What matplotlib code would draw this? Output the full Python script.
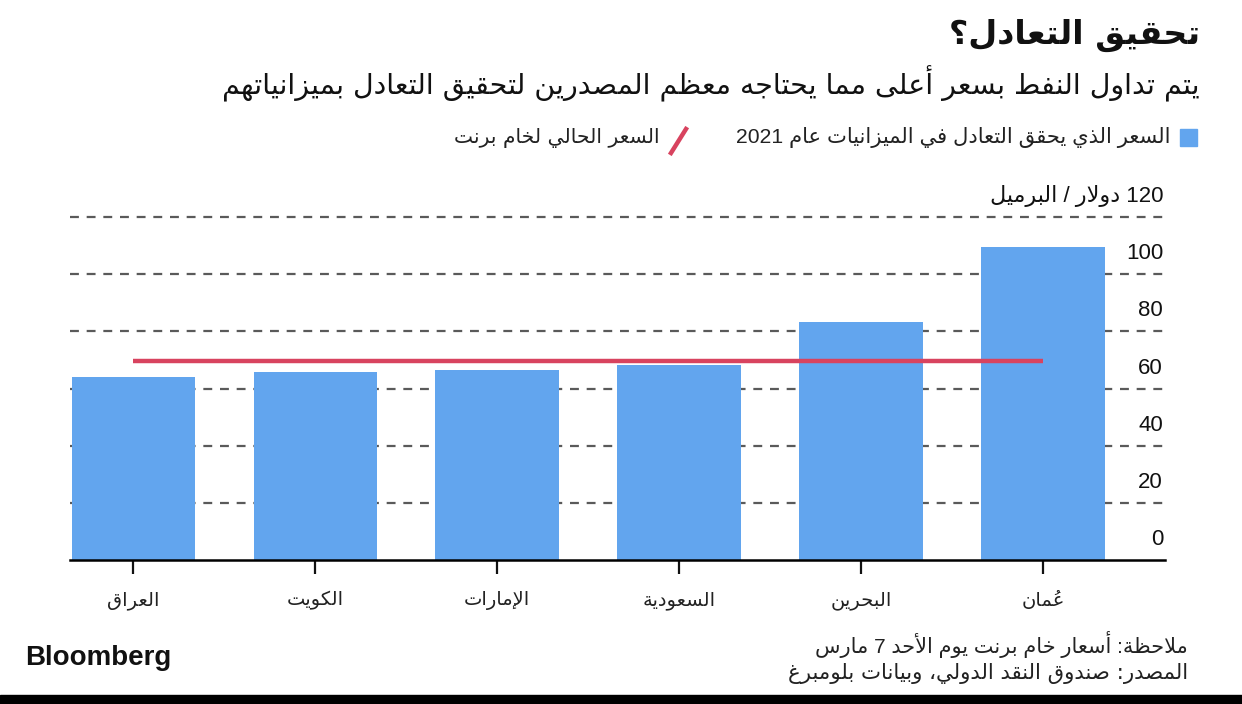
import matplotlib
matplotlib.use("Agg")
import matplotlib.pyplot as plt
import matplotlib.transforms as mtransforms
from matplotlib.patches import Rectangle
from matplotlib.lines import Line2D

# --- data -------------------------------------------------------------
countries = ["العراق", "الكويت", "الإمارات", "السعودية", "البحرين", "عُمان"]
breakeven = [64.0, 65.8, 66.5, 68.2, 83.4, 109.6]
brent = 69.6
yticks = [0, 20, 40, 60, 80, 100, 120]

title = "تحقيق التعادل؟"
subtitle = "يتم تداول النفط بسعر أعلى مما يحتاجه معظم المصدرين لتحقيق التعادل بميزانياتهم"
legend_bars = "السعر الذي يحقق التعادل في الميزانيات عام 2021"
legend_line = "السعر الحالي لخام برنت"
unit_label = "120 دولار / البرميل"
note = "ملاحظة: أسعار خام برنت يوم الأحد 7 مارس"
source = "المصدر: صندوق النقد الدولي، وبيانات بلومبرغ"

bar_color = "#62a5ee"
line_color = "#d8435f"

# --- minimal arabic shaping (matplotlib 3.10 does no text shaping) ------
# isolated, final, initial, medial
FORMS = {
    'ء': (0xFE80, None, None, None),
    'آ': (0xFE81, 0xFE82, None, None),
    'أ': (0xFE83, 0xFE84, None, None),
    'ؤ': (0xFE85, 0xFE86, None, None),
    'إ': (0xFE87, 0xFE88, None, None),
    'ئ': (0xFE89, 0xFE8A, 0xFE8B, 0xFE8C),
    'ا': (0xFE8D, 0xFE8E, None, None),
    'ب': (0xFE8F, 0xFE90, 0xFE91, 0xFE92),
    'ة': (0xFE93, 0xFE94, None, None),
    'ت': (0xFE95, 0xFE96, 0xFE97, 0xFE98),
    'ث': (0xFE99, 0xFE9A, 0xFE9B, 0xFE9C),
    'ج': (0xFE9D, 0xFE9E, 0xFE9F, 0xFEA0),
    'ح': (0xFEA1, 0xFEA2, 0xFEA3, 0xFEA4),
    'خ': (0xFEA5, 0xFEA6, 0xFEA7, 0xFEA8),
    'د': (0xFEA9, 0xFEAA, None, None),
    'ذ': (0xFEAB, 0xFEAC, None, None),
    'ر': (0xFEAD, 0xFEAE, None, None),
    'ز': (0xFEAF, 0xFEB0, None, None),
    'س': (0xFEB1, 0xFEB2, 0xFEB3, 0xFEB4),
    'ش': (0xFEB5, 0xFEB6, 0xFEB7, 0xFEB8),
    'ص': (0xFEB9, 0xFEBA, 0xFEBB, 0xFEBC),
    'ض': (0xFEBD, 0xFEBE, 0xFEBF, 0xFEC0),
    'ط': (0xFEC1, 0xFEC2, 0xFEC3, 0xFEC4),
    'ظ': (0xFEC5, 0xFEC6, 0xFEC7, 0xFEC8),
    'ع': (0xFEC9, 0xFECA, 0xFECB, 0xFECC),
    'غ': (0xFECD, 0xFECE, 0xFECF, 0xFED0),
    'ف': (0xFED1, 0xFED2, 0xFED3, 0xFED4),
    'ق': (0xFED5, 0xFED6, 0xFED7, 0xFED8),
    'ك': (0xFED9, 0xFEDA, 0xFEDB, 0xFEDC),
    'ل': (0xFEDD, 0xFEDE, 0xFEDF, 0xFEE0),
    'م': (0xFEE1, 0xFEE2, 0xFEE3, 0xFEE4),
    'ن': (0xFEE5, 0xFEE6, 0xFEE7, 0xFEE8),
    'ه': (0xFEE9, 0xFEEA, 0xFEEB, 0xFEEC),
    'و': (0xFEED, 0xFEEE, None, None),
    'ى': (0xFEEF, 0xFEF0, 0xFBE8, 0xFBE9),
    'ي': (0xFEF1, 0xFEF2, 0xFEF3, 0xFEF4),
}
LAM_ALEF = {'آ': (0xFEF5, 0xFEF6), 'أ': (0xFEF7, 0xFEF8),
            'إ': (0xFEF9, 0xFEFA), 'ا': (0xFEFB, 0xFEFC)}


def is_mark(ch):
    return '\u064b' <= ch <= '\u0652'


def joins_fwd(c):
    return c in FORMS and FORMS[c][2] is not None


def joins_back(c):
    return (c in FORMS and FORMS[c][1] is not None) or len(c) == 2


def ar(text):
    toks = []
    for ch in text:
        if is_mark(ch) and toks:
            toks[-1][1] += ch
        elif toks and ch in LAM_ALEF and toks[-1][0] == 'ل' and not toks[-1][1]:
            toks[-1][0] = 'ل' + ch
        else:
            toks.append([ch, ''])
    n = len(toks)
    clusters = []
    for i, (c, m) in enumerate(toks):
        prev_c = i > 0 and joins_fwd(toks[i - 1][0]) and joins_back(c)
        next_c = i < n - 1 and joins_fwd(c) and joins_back(toks[i + 1][0])
        if len(c) == 2:
            g = chr(LAM_ALEF[c[1]][1 if prev_c else 0])
        elif c in FORMS:
            f = FORMS[c]
            if prev_c and next_c:
                g = chr(f[3])
            elif prev_c:
                g = chr(f[1])
            elif next_c:
                g = chr(f[2])
            else:
                g = chr(f[0])
        else:
            g = c
        ltr = c.isascii() and c.isalnum()
        # mark goes first so it lands over the glyph drawn after it
        clusters.append((m + g, ltr))
    # simple bidi: reverse everything, keep digit runs in order
    runs = []
    for g, ltr in clusters:
        if ltr and runs and runs[-1][1]:
            runs[-1][0] += g
        else:
            runs.append([g, ltr])
    return "".join(r[0] for r in reversed(runs))


# --- figure -------------------------------------------------------------
W, H = 1242, 704
fig = plt.figure(figsize=(W / 100, H / 100), dpi=100)
fig.patch.set_facecolor("white")

AR = ["DejaVu Sans"]
NUM = ["Liberation Sans", "DejaVu Sans"]


def fx(x):
    return x / W


def fy(y):
    return 1 - y / H


left, right, bottom, top = 70, 1165, 560, 214.2
ax = fig.add_axes([fx(left), fy(bottom), fx(right) - fx(left), (bottom - top) / H])

x = list(range(len(countries)))
ax.bar(x, breakeven, width=0.68, color=bar_color, zorder=2)
ax.hlines(brent, 0, len(countries) - 1, color=line_color, lw=3.2, zorder=3)

ax.set_xlim(-0.349, 5.671)
ax.set_ylim(0, 121)
for v in yticks[1:]:
    ax.axhline(v, color="#5a5a5a", lw=1.6, ls=(0, (4, 3.5)), zorder=1)

for s in ["top", "right", "left"]:
    ax.spines[s].set_visible(False)
ax.spines["bottom"].set_linewidth(1.8)
ax.spines["bottom"].set_zorder(4)
ax.set_yticks([])
ax.set_xticks(x)
ax.set_xticklabels([ar(c) for c in countries], family=AR, fontsize=14, color="#222")
ax.tick_params(axis="x", length=10, width=1.6, pad=12, color="#111")

lab_tr = mtransforms.offset_copy(ax.get_yaxis_transform(), fig=fig, x=-2, y=10, units="dots")
for v in yticks:
    label = ar(unit_label) if v == 120 else str(v)
    ax.text(1.0, v, label, transform=lab_tr, ha="right", va="bottom",
            family=NUM, fontsize=16, color="#111")

# titles
fig.text(fx(1200), fy(35), ar(title), ha="right", va="center",
         family=AR, fontsize=24, fontweight="bold", color="#111")
fig.text(fx(1200), fy(84), ar(subtitle), ha="right", va="center",
         family=AR, fontsize=20.5, color="#111")

# legend
fig.patches.append(Rectangle((fx(1180), fy(146)), fx(17), 17 / H, color=bar_color,
                             transform=fig.transFigure, figure=fig))
fig.text(fx(1170), fy(138), ar(legend_bars), ha="right", va="center",
         family=NUM, fontsize=15.2, color="#222")
fig.lines.append(Line2D([fx(671), fx(686)], [fy(153), fy(129)], color=line_color, lw=3.2,
                        transform=fig.transFigure, figure=fig))
fig.text(fx(660), fy(138), ar(legend_line), ha="right", va="center",
         family=AR, fontsize=14.6, color="#222")

# notes
fig.text(fx(1188), fy(645), ar(note), ha="right", va="center",
         family=NUM, fontsize=15, color="#222")
fig.text(fx(1188), fy(674), ar(source), ha="right", va="center",
         family=AR, fontsize=15.3, color="#222")

fig.text(fx(25), fy(658), "Bloomberg", ha="left", va="center",
         family="Liberation Sans", fontsize=20, fontweight="bold", color="#111")

fig.patches.append(Rectangle((0, 0), 1, 9 / H, color="black",
                             transform=fig.transFigure, figure=fig))

fig.savefig("out.png", dpi=100)
